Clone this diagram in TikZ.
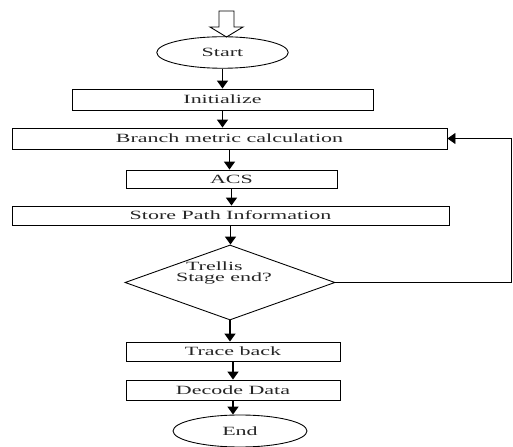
\documentclass[tikz,border=0pt]{standalone}
\usepackage{fontspec}
\setmainfont{Liberation Serif}[FakeStretch=1.75]
\usetikzlibrary{arrows.meta,shapes.geometric}

\begin{document}
\begin{tikzpicture}[
  box/.style={draw, line width=1pt, rectangle, inner sep=0pt},
  term/.style={draw, line width=1pt, ellipse, inner sep=0pt},
  decision/.style={draw, line width=1pt, diamond, inner sep=0pt},
  flow/.style={line width=1.8pt, -{Triangle[length=0.32cm,width=0.44cm]}},
  font=\fontsize{14.3pt}{17pt}\selectfont, text=black!85]
\useasboundingbox (0,0) rectangle (20.52,-17.88);

% entry arrow
\draw[line width=1pt] (8.76,-0.44) -- (9.36,-0.44) -- (9.36,-1.08) -- (9.72,-1.08)
  -- (9.06,-1.48) -- (8.40,-1.08) -- (8.76,-1.08) -- cycle;

\draw (8.90,-2.10)  node (start) [term, minimum width=5.26cm, minimum height=1.26cm] {Start};
\draw (8.90,-3.98)  node (init)  [box, minimum width=12.04cm, minimum height=0.84cm] {Initialize};
\draw[flow] (start) -- (init);

\draw (9.18,-5.54)  node (branch) [box, minimum width=17.40cm, minimum height=0.84cm] {Branch metric calculation};
\draw[flow] (init) -- (init |- branch.north);

\draw (9.26,-7.16)  node (acs)   [box, minimum width=8.44cm, minimum height=0.72cm] {ACS};
\draw[flow] (branch) -- (branch |- acs.north);

\draw (9.22,-8.62)  node (store) [box, minimum width=17.48cm, minimum height=0.76cm] {Store Path Information};
\draw[flow] (acs) -- (acs |- store.north);

\draw (9.20,-11.30) node (trellis) [decision, minimum width=8.40cm, minimum height=3.00cm,
  label={[align=left, xshift=-0.24cm, yshift=0.38cm, font=\fontsize{14.3pt}{13.6pt}\selectfont]center:\hspace*{0.4cm}Trellis\\Stage end?}] {};
\draw[flow] (store) -- (store |- trellis.north);

% loop back to branch metric
\coordinate (edge) at (20.46,0);
\draw[line width=0.9pt, -{Triangle[length=0.32cm,width=0.44cm]}] (trellis.east) -| (edge |- branch.east) -- (branch.east);

\draw (9.32,-14.06) node (trace)  [box, minimum width=8.56cm, minimum height=0.76cm] {Trace back};
\draw[flow] (trellis) -- (trellis |- trace.north);

\draw (9.32,-15.60) node (decode) [box, minimum width=8.56cm, minimum height=0.80cm] {Decode Data};
\draw[flow] (trace) -- (trace |- decode.north);

\draw (9.60,-17.24) node (stop)   [term, minimum width=5.36cm, minimum height=1.28cm] {End};
\draw[flow] (decode) -- (decode |- stop.north);
\end{tikzpicture}
\end{document}
